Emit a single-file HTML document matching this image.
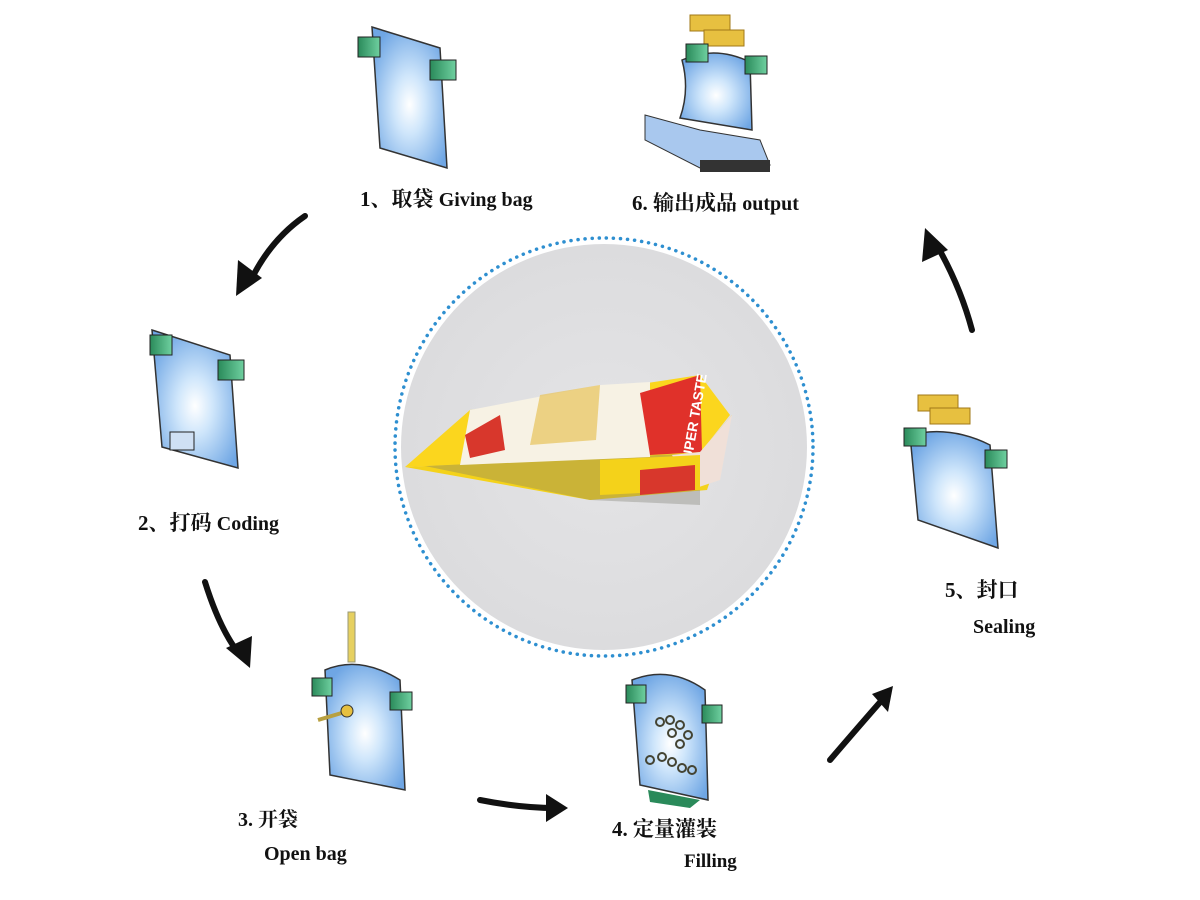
<!DOCTYPE html>
<html><head><meta charset="utf-8"><style>
html,body{margin:0;padding:0;background:#fff;width:1200px;height:900px;overflow:hidden}
svg{display:block}
text{font-family:"Liberation Serif","Noto Serif CJK SC","Noto Sans CJK SC",serif;font-weight:bold;fill:#111}
</style></head><body>
<svg width="1200" height="900" viewBox="0 0 1200 900" xmlns="http://www.w3.org/2000/svg">
<defs>
<radialGradient id="bg" cx="0.5" cy="0.55" r="0.6">
<stop offset="0" stop-color="#ffffff"/><stop offset="0.35" stop-color="#cfe6fb"/><stop offset="1" stop-color="#6fa6e4"/></radialGradient>
<linearGradient id="gr" x1="0" x2="1"><stop offset="0" stop-color="#2a8a5a"/><stop offset="1" stop-color="#6fd0a0"/></linearGradient>
<radialGradient id="circ" cx="0.5" cy="0.5" r="0.5"><stop offset="0" stop-color="#e4e4e6"/><stop offset="1" stop-color="#dcdcde"/></radialGradient>
<marker id="ah" markerWidth="6" markerHeight="6" refX="3" refY="3" orient="auto" markerUnits="strokeWidth"><path d="M0,0 L6,3 L0,6 z" fill="#111"/></marker>
</defs>

<!-- center circle -->
<circle cx="604" cy="447" r="203" fill="url(#circ)"/>
<circle cx="604" cy="447" r="209" fill="none" stroke="#2e8fd0" stroke-width="3.5" stroke-dasharray="0.1 7" stroke-linecap="round"/>
<!-- pouch -->
<g>
<path d="M405,467 L700,452 L732,415 L707,490 L590,500 Z" fill="#f4d21a"/>
<path d="M420,465 L700,452 L700,505 L590,500 Z" fill="#7a7a70" opacity="0.35"/>
<path d="M405,467 L470,410 L700,375 L730,415 L700,453 Z" fill="#fbd61e"/>
<path d="M460,465 L470,410 L600,385 L650,382 L650,457 Z" fill="#f7f2e4"/>
<path d="M530,445 L540,395 L600,385 L596,440 Z" fill="#e8c86a" opacity="0.8"/>
<path d="M640,393 L700,375 L702,452 L650,455 Z" fill="#e0312a"/>
<text x="0" y="0" transform="translate(690,470) rotate(-80)" style="font-family:'Liberation Sans',sans-serif;font-size:14px;fill:#fff">SUPER TASTE</text>
<path d="M465,435 L500,415 L505,450 L470,458 Z" fill="#d8372c"/>
<path d="M672,455 L700,452 L732,415 L720,480 L690,490 Z" fill="#f0e0d8"/>
<path d="M600,460 L700,455 L700,490 L600,495 Z" fill="#f4d21a"/>
<path d="M640,470 L695,465 L695,490 L640,495 Z" fill="#d8372c"/>
</g>

<!-- arrows -->
<g fill="none" stroke="#111" stroke-width="6" stroke-linecap="round">
<path d="M305,216 Q270,240 250,282"/>
<path d="M205,582 Q220,630 240,655"/>
<path d="M480,800 Q520,808 555,808"/>
<path d="M830,760 Q860,725 882,700"/>
<path d="M972,330 Q960,285 935,242"/>
</g>
<g fill="#111">
<path d="M236,296 L238,260 L262,278 Z"/>
<path d="M250,668 L226,648 L252,636 Z"/>
<path d="M568,808 L546,794 L546,822 Z"/>
<path d="M893,686 L872,694 L888,712 Z"/>
<path d="M925,228 L922,262 L948,250 Z"/>
</g>

<!-- Bag 1 -->
<g>
<path d="M372,27 L440,48 L447,168 L380,148 Z" fill="url(#bg)" stroke="#333" stroke-width="1.5"/>
<rect x="358" y="37" width="22" height="20" fill="url(#gr)" stroke="#222"/>
<rect x="430" y="60" width="26" height="20" fill="url(#gr)" stroke="#222"/>
</g>
<text x="360" y="206" font-size="21">1、取袋 <tspan font-size="20">Giving bag</tspan></text>

<!-- Bag 6 -->
<g>
<rect x="690" y="15" width="40" height="16" fill="#e7c040" stroke="#a07818"/>
<rect x="704" y="30" width="40" height="16" fill="#e7c040" stroke="#a07818"/>
<path d="M682,60 Q715,45 750,62 L752,130 L680,118 Q690,90 682,60 Z" fill="url(#bg)" stroke="#333" stroke-width="1.5"/>
<rect x="686" y="44" width="22" height="18" fill="url(#gr)" stroke="#222"/>
<rect x="745" y="56" width="22" height="18" fill="url(#gr)" stroke="#222"/>
<path d="M645,115 L700,130 L760,140 L770,165 L700,168 L645,140 Z" fill="#a9c8ee" stroke="#333"/>
<path d="M700,160 L770,160 L770,172 L700,172 Z" fill="#333"/>
</g>
<text x="632" y="210" font-size="21">6.  输出成品 <tspan font-size="20">output</tspan></text>

<!-- Bag 2 -->
<g>
<path d="M152,330 L230,355 L238,468 L162,447 Z" fill="url(#bg)" stroke="#333" stroke-width="1.5"/>
<rect x="150" y="335" width="22" height="20" fill="url(#gr)" stroke="#222"/>
<rect x="218" y="360" width="26" height="20" fill="url(#gr)" stroke="#222"/>
<rect x="170" y="432" width="24" height="18" fill="#cfe0f4" stroke="#222"/>
</g>
<text x="138" y="530" font-size="21">2、打码 <tspan font-size="20">Coding</tspan></text>

<!-- Bag 3 -->
<g>
<rect x="348" y="612" width="7" height="50" fill="#e6d060" stroke="#997"/>
<path d="M325,670 Q360,655 400,680 L405,790 L330,775 Z" fill="url(#bg)" stroke="#333" stroke-width="1.5"/>
<rect x="312" y="678" width="20" height="18" fill="url(#gr)" stroke="#222"/>
<rect x="390" y="692" width="22" height="18" fill="url(#gr)" stroke="#222"/>
<line x1="318" y1="720" x2="345" y2="712" stroke="#b8a040" stroke-width="4"/>
<circle cx="347" cy="711" r="6" fill="#e6c040" stroke="#333"/>
</g>
<text x="238" y="826" font-size="20">3. 开袋</text>
<text x="264" y="860" font-size="20">Open bag</text>

<!-- Bag 4 -->
<g>
<path d="M632,680 Q670,665 705,690 L708,800 L640,785 Z" fill="url(#bg)" stroke="#333" stroke-width="1.5"/>
<rect x="626" y="685" width="20" height="18" fill="url(#gr)" stroke="#222"/>
<rect x="702" y="705" width="20" height="18" fill="url(#gr)" stroke="#222"/>
<g fill="none" stroke="#443" stroke-width="2">
<circle cx="660" cy="722" r="4"/><circle cx="670" cy="720" r="4"/><circle cx="680" cy="725" r="4"/><circle cx="688" cy="735" r="4"/><circle cx="672" cy="733" r="4"/><circle cx="680" cy="744" r="4"/>
<circle cx="650" cy="760" r="4"/><circle cx="662" cy="757" r="4"/><circle cx="672" cy="762" r="4"/><circle cx="682" cy="768" r="4"/><circle cx="692" cy="770" r="4"/>
</g>
<path d="M648,790 L700,800 L690,808 L650,802 Z" fill="#2a8a5a"/>
</g>
<text x="612" y="836" font-size="21">4.  定量灌装</text>
<text x="684" y="867" font-size="19">Filling</text>

<!-- Bag 5 -->
<g>
<rect x="918" y="395" width="40" height="16" fill="#e7c040" stroke="#a07818"/>
<rect x="930" y="408" width="40" height="16" fill="#e7c040" stroke="#a07818"/>
<path d="M910,435 Q950,425 990,445 L998,548 L918,520 Z" fill="url(#bg)" stroke="#333" stroke-width="1.5"/>
<rect x="904" y="428" width="22" height="18" fill="url(#gr)" stroke="#222"/>
<rect x="985" y="450" width="22" height="18" fill="url(#gr)" stroke="#222"/>
</g>
<text x="945" y="597" font-size="21">5、封口</text>
<text x="973" y="633" font-size="20">Sealing</text>
</svg>
</body></html>
